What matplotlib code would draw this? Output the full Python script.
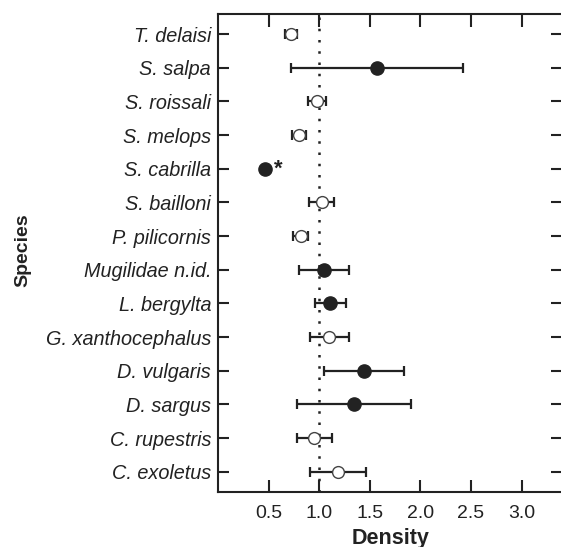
import matplotlib
matplotlib.use("Agg")
import matplotlib.pyplot as plt

species = ["T. delaisi", "S. salpa", "S. roissali", "S. melops", "S. cabrilla",
           "S. bailloni", "P. pilicornis", "Mugilidae n.id.", "L. bergylta",
           "G. xanthocephalus", "D. vulgaris", "D. sargus", "C. rupestris", "C. exoletus"]
density = [0.72, 1.57, 0.975, 0.80, 0.46, 1.03, 0.82, 1.045, 1.11, 1.10, 1.44, 1.34, 0.95, 1.185]
lower = [0.665, 0.72, 0.885, 0.73, 0.46, 0.90, 0.745, 0.80, 0.955, 0.91, 1.05, 0.78, 0.78, 0.91]
upper = [0.78, 2.42, 1.07, 0.87, 0.46, 1.15, 0.89, 1.29, 1.265, 1.29, 1.84, 1.91, 1.13, 1.46]
significant = [False, True, False, False, True, False, False, True, True, False, True, True, False, False]
star_species = "S. cabrilla"
star_x = 0.60
xticks = [0.5, 1.0, 1.5, 2.0, 2.5, 3.0]

plt.rcParams['font.family'] = ['Liberation Sans', 'DejaVu Sans']

fig = plt.figure(figsize=(5.61, 5.47), dpi=100)
ax = fig.add_axes([0.3886, 0.1005, 0.6134, 0.874])

ink = "#222222"
ax.axvline(1.0, color=ink, linestyle=(0, (1, 3.5)), linewidth=1.8, zorder=1)

for i, (sp, d, lo, hi, sig) in enumerate(zip(species, density, lower, upper, significant)):
    if hi > lo:
        ax.errorbar([d], [i], xerr=[[d - lo], [hi - d]], fmt='none', ecolor=ink,
                    elinewidth=1.6, capsize=3.5, capthick=1.6, zorder=2)
    if sig:
        ax.plot([d], [i], 'o', markersize=9.5, color=ink, markeredgecolor=ink, zorder=3)
    else:
        ax.plot([d], [i], 'o', markersize=8.5, markerfacecolor='white',
                markeredgecolor='#444444', markeredgewidth=1.0, zorder=3)
    if sp == star_species:
        ax.text(star_x, i, "*", fontsize=16, fontweight='bold', color=ink,
                ha='center', va='center')

ax.set_xlim(0, 3.40)
ax.set_ylim(len(species) - 0.4, -0.6)
ax.set_yticks(range(len(species)))
ax.set_yticklabels(species, fontsize=14.3, style='italic', color=ink)
ax.set_xticks(xticks)
ax.set_xticklabels([f"{t:.1f}" for t in xticks], fontsize=14, color=ink)
ax.tick_params(axis='x', direction='in', length=9, width=1.5, top=True, bottom=True, pad=9, colors=ink)
ax.tick_params(axis='y', direction='in', length=8, width=1.5, left=True, right=True, pad=5, colors=ink)
for s in ax.spines.values():
    s.set_linewidth(1.5)
    s.set_color(ink)

ax.set_xlabel("Density", fontsize=15.5, fontweight='bold', color=ink, labelpad=5)
fig.text(0.041, 0.543, "Species", rotation=90, fontsize=14, fontweight='bold',
         color=ink, ha='center', va='center')

fig.savefig("out.png", dpi=100)
